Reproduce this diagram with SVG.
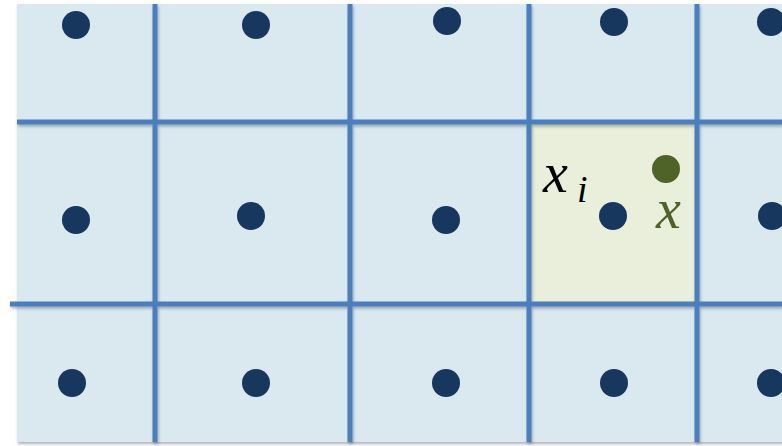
<svg xmlns="http://www.w3.org/2000/svg" width="782" height="446" viewBox="0 0 782 446">
<defs>
<filter id="sh" x="-5%" y="-5%" width="110%" height="110%">
<feDropShadow dx="1" dy="2" stdDeviation="1.5" flood-color="#000" flood-opacity="0.3"/>
</filter>
</defs>
<style>
.dot{fill:#17375E}
.grid line{stroke:#4A7EBF;stroke-width:5}
.lbl{font-family:"Liberation Serif",serif;font-style:italic}
</style>
<rect x="17" y="4" width="770" height="438" fill="#DAE9F0" filter="url(#sh)"/>
<rect id="cell" x="529" y="122" width="168" height="181" fill="#E9EFDB"/>
<g id="grid" class="grid" filter="url(#sh)">
<line x1="155" y1="4" x2="155" y2="442"/>
<line x1="350" y1="4" x2="350" y2="442"/>
<line x1="529" y1="4" x2="529" y2="442"/>
<line x1="697" y1="4" x2="697" y2="442"/>
<line x1="17" y1="122" x2="782" y2="122"/>
<line x1="10" y1="304" x2="782" y2="304"/>
</g>
<g id="dots">
<circle class="dot" cx="76" cy="25" r="14"/>
<circle class="dot" cx="256" cy="25" r="14"/>
<circle class="dot" cx="447" cy="21" r="14"/>
<circle class="dot" cx="614" cy="22" r="14"/>
<circle class="dot" cx="771" cy="22" r="14"/>
<circle class="dot" cx="76" cy="220" r="14"/>
<circle class="dot" cx="251" cy="216" r="14"/>
<circle class="dot" cx="446" cy="220" r="14"/>
<circle class="dot" cx="613" cy="216" r="14"/>
<circle class="dot" cx="772" cy="216" r="14"/>
<circle class="dot" cx="72" cy="383" r="14"/>
<circle class="dot" cx="256" cy="383" r="14"/>
<circle class="dot" cx="446" cy="383" r="14"/>
<circle class="dot" cx="614" cy="383" r="14"/>
<circle class="dot" cx="771" cy="383" r="14"/>
</g>
<g id="x">
<circle cx="666" cy="169" r="14" fill="#4F6228"/>
<text class="lbl" x="656" y="228" font-size="56" fill="#4F6228">x</text>
</g>
<g id="xi">
<text class="lbl" x="543" y="192" font-size="56" fill="#000">x</text>
<text class="lbl" x="577" y="202" font-size="38" fill="#000">i</text>
</g>
</svg>
